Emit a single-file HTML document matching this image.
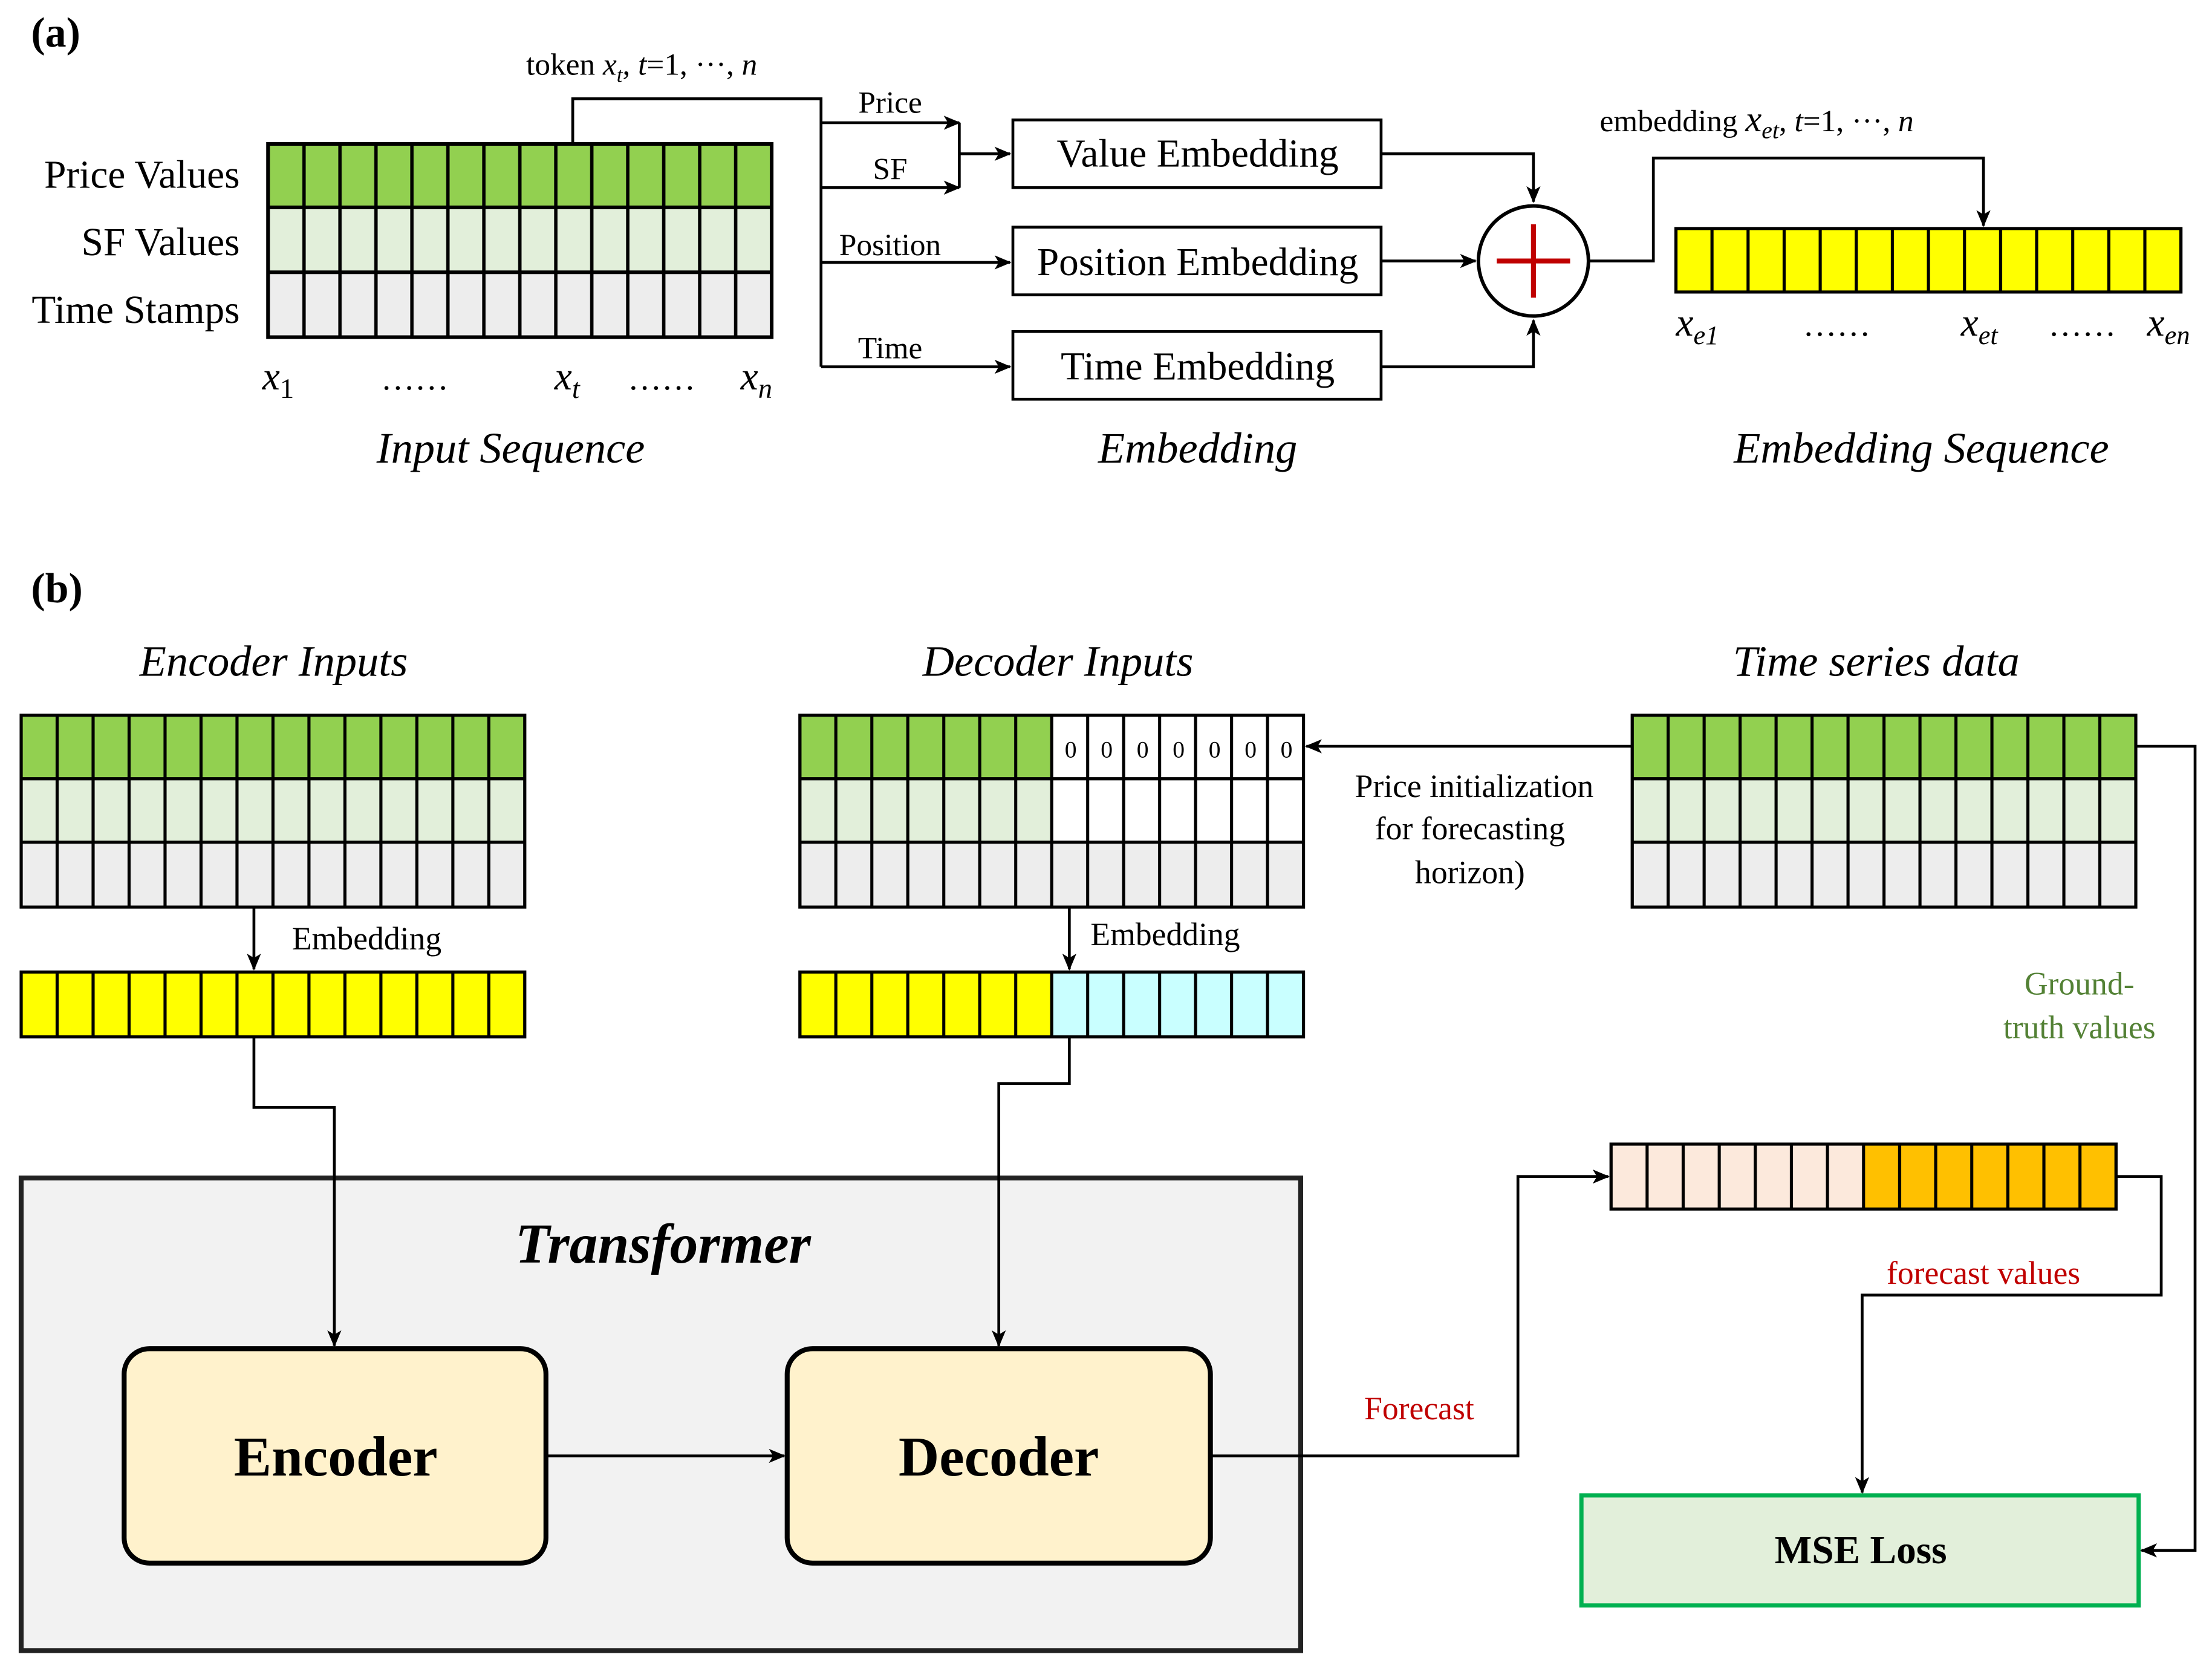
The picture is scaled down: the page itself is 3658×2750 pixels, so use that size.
<!DOCTYPE html>
<html><head><meta charset="utf-8"><style>html,body{margin:0;padding:0;background:#fff}svg{display:block}text{font-family:"Liberation Serif",serif}</style></head>
<body>
<svg width="3658" height="2750" viewBox="0 0 1568 1178.8" xmlns="http://www.w3.org/2000/svg" preserveAspectRatio="none">
<defs>
<marker id="ar" viewBox="0 0 12 10" refX="11" refY="5" markerWidth="12" markerHeight="10" markerUnits="userSpaceOnUse" orient="auto"><path d="M0,0 L12,5 L0,10 L3,5 Z" fill="#000"/></marker>
<pattern id="pa" patternUnits="userSpaceOnUse" x="190" y="0" width="25.5" height="10"><rect x="-1.2" width="2.4" height="10" fill="#000"/><rect x="24.3" width="2.4" height="10" fill="#000"/></pattern>
<pattern id="pe" patternUnits="userSpaceOnUse" x="1188" y="0" width="25.57" height="10"><rect x="-1.1" width="2.2" height="10" fill="#000"/><rect x="24.47" width="2.2" height="10" fill="#000"/></pattern>
<pattern id="pb1" patternUnits="userSpaceOnUse" x="15" y="0" width="25.5" height="10"><rect x="-1.1" width="2.2" height="10" fill="#000"/><rect x="24.4" width="2.2" height="10" fill="#000"/></pattern>
<pattern id="pb2" patternUnits="userSpaceOnUse" x="567" y="0" width="25.5" height="10"><rect x="-1.1" width="2.2" height="10" fill="#000"/><rect x="24.4" width="2.2" height="10" fill="#000"/></pattern>
<pattern id="pb3" patternUnits="userSpaceOnUse" x="1157" y="0" width="25.5" height="10"><rect x="-1.1" width="2.2" height="10" fill="#000"/><rect x="24.4" width="2.2" height="10" fill="#000"/></pattern>
<pattern id="pb4" patternUnits="userSpaceOnUse" x="1142" y="0" width="25.57" height="10"><rect x="-1.1" width="2.2" height="10" fill="#000"/><rect x="24.47" width="2.2" height="10" fill="#000"/></pattern>
</defs>

<!-- (a) -->
<text x="22" y="33" font-size="30" font-weight="bold">(a)</text>
<text x="170" y="133" font-size="28" text-anchor="end">Price Values</text>
<text x="170" y="181" font-size="28" text-anchor="end">SF Values</text>
<text x="170" y="229" font-size="28" text-anchor="end">Time Stamps</text>
<rect x="190" y="102" width="357" height="45" fill="#92d050"/>
<rect x="190" y="147" width="357" height="46" fill="#e2efda"/>
<rect x="190" y="193" width="357" height="46" fill="#ededed"/>
<rect x="190" y="102" width="357" height="137" fill="url(#pa)"/>
<rect x="190" y="102" width="357" height="137" fill="none" stroke="#000" stroke-width="2.6"/>
<line x1="190" y1="147" x2="547" y2="147" stroke="#000" stroke-width="2.6"/>
<line x1="190" y1="193" x2="547" y2="193" stroke="#000" stroke-width="2.6"/>
<text x="186" y="276" font-size="28" font-style="italic">x<tspan font-size="20" font-style="normal" dy="6">1</tspan></text>
<text x="270" y="276" font-size="24">……</text>
<text x="393" y="276" font-size="28" font-style="italic">x<tspan font-size="20" dy="6">t</tspan></text>
<text x="445" y="276" font-size="24">……</text>
<text x="525" y="276" font-size="28" font-style="italic">x<tspan font-size="20" dy="6">n</tspan></text>
<text x="362" y="328" font-size="31" font-style="italic" text-anchor="middle">Input Sequence</text>
<text x="373" y="53" font-size="22">token <tspan font-style="italic">x<tspan font-size="15" dy="5">t</tspan></tspan><tspan dy="-5">,  </tspan><tspan font-style="italic">t</tspan>=1, ···, <tspan font-style="italic">n</tspan></text>

<g stroke="#000" stroke-width="2" fill="none">
<path d="M406,102 V70 H582 V260"/>
<path d="M582,87 H680" marker-end="url(#ar)"/>
<path d="M582,133 H680" marker-end="url(#ar)"/>
<path d="M680,87 V133 M680,109 H716" marker-end="url(#ar)"/>
<path d="M582,186 H716" marker-end="url(#ar)"/>
<path d="M582,260 H716" marker-end="url(#ar)"/>
<path d="M979,109 H1087 V143" marker-end="url(#ar)"/>
<path d="M979,185 H1046" marker-end="url(#ar)"/>
<path d="M979,260 H1087 V227" marker-end="url(#ar)"/>
<path d="M1127,185 H1172 V112 H1406 V160" marker-end="url(#ar)"/>
</g>
<text x="631" y="80" font-size="22" text-anchor="middle">Price</text>
<text x="631" y="127" font-size="22" text-anchor="middle">SF</text>
<text x="631" y="181" font-size="22" text-anchor="middle">Position</text>
<text x="631" y="254" font-size="22" text-anchor="middle">Time</text>
<g fill="#fff" stroke="#000" stroke-width="2">
<rect x="718" y="85" width="261" height="48"/>
<rect x="718" y="161" width="261" height="48"/>
<rect x="718" y="235" width="261" height="48"/>
</g>
<text x="849" y="118" font-size="28" text-anchor="middle">Value Embedding</text>
<text x="849" y="195" font-size="28" text-anchor="middle">Position Embedding</text>
<text x="849" y="269" font-size="28" text-anchor="middle">Time Embedding</text>
<circle cx="1087" cy="185" r="39" fill="#fff" stroke="#000" stroke-width="2.5"/>
<path d="M1061,185 H1113 M1087,159 V211" stroke="#c00000" stroke-width="3.5"/>
<text x="849" y="328" font-size="31" font-style="italic" text-anchor="middle">Embedding</text>

<text x="1134" y="93" font-size="22">embedding <tspan font-style="italic" font-size="26">x<tspan font-size="17" dy="5">et</tspan></tspan><tspan dy="-5">,  </tspan><tspan font-style="italic">t</tspan>=1, ···, <tspan font-style="italic">n</tspan></text>
<rect x="1188" y="162" width="358" height="45" fill="#ffff00"/>
<rect x="1188" y="162" width="358" height="45" fill="url(#pe)"/>
<rect x="1188" y="162" width="358" height="45" fill="none" stroke="#000" stroke-width="2.2"/>
<text x="1188" y="238" font-size="28" font-style="italic">x<tspan font-size="19" dy="6">e1</tspan></text>
<text x="1278" y="238" font-size="24">……</text>
<text x="1390" y="238" font-size="28" font-style="italic">x<tspan font-size="19" dy="6">et</tspan></text>
<text x="1452" y="238" font-size="24">……</text>
<text x="1522" y="238" font-size="28" font-style="italic">x<tspan font-size="19" dy="6">en</tspan></text>
<text x="1362" y="328" font-size="31" font-style="italic" text-anchor="middle">Embedding Sequence</text>

<!-- (b) -->
<text x="22" y="427" font-size="30" font-weight="bold">(b)</text>
<text x="194" y="479" font-size="31" font-style="italic" text-anchor="middle">Encoder Inputs</text>
<text x="750" y="479" font-size="31" font-style="italic" text-anchor="middle">Decoder Inputs</text>
<text x="1330" y="479" font-size="31" font-style="italic" text-anchor="middle">Time series data</text>

<!-- encoder grid -->
<rect x="15" y="507" width="357" height="45" fill="#92d050"/>
<rect x="15" y="552" width="357" height="45" fill="#e2efda"/>
<rect x="15" y="597" width="357" height="46" fill="#ededed"/>
<rect x="15" y="507" width="357" height="136" fill="url(#pb1)"/>
<rect x="15" y="507" width="357" height="136" fill="none" stroke="#000" stroke-width="2.2"/>
<path d="M15,552 H372 M15,597 H372" stroke="#000" stroke-width="2.2"/>
<rect x="15" y="689" width="357" height="46" fill="#ffff00"/>
<rect x="15" y="689" width="357" height="46" fill="url(#pb1)"/>
<rect x="15" y="689" width="357" height="46" fill="none" stroke="#000" stroke-width="2.2"/>

<!-- decoder grid -->
<rect x="567" y="507" width="179" height="45" fill="#92d050"/>
<rect x="567" y="552" width="179" height="45" fill="#e2efda"/>
<rect x="746" y="507" width="178" height="90" fill="#fff"/>
<rect x="567" y="597" width="357" height="46" fill="#ededed"/>
<rect x="567" y="507" width="357" height="136" fill="url(#pb2)"/>
<rect x="567" y="507" width="357" height="136" fill="none" stroke="#000" stroke-width="2.2"/>
<path d="M567,552 H924 M567,597 H924" stroke="#000" stroke-width="2.2"/>
<g font-size="17" text-anchor="middle">
<text x="759" y="537">0</text><text x="784.5" y="537">0</text><text x="810" y="537">0</text><text x="835.5" y="537">0</text><text x="861" y="537">0</text><text x="886.5" y="537">0</text><text x="912" y="537">0</text>
</g>
<rect x="567" y="689" width="179" height="46" fill="#ffff00"/>
<rect x="746" y="689" width="178" height="46" fill="#c9ffff"/>
<rect x="567" y="689" width="357" height="46" fill="url(#pb2)"/>
<rect x="567" y="689" width="357" height="46" fill="none" stroke="#000" stroke-width="2.2"/>

<!-- time series grid -->
<rect x="1157" y="507" width="357" height="45" fill="#92d050"/>
<rect x="1157" y="552" width="357" height="45" fill="#e2efda"/>
<rect x="1157" y="597" width="357" height="46" fill="#ededed"/>
<rect x="1157" y="507" width="357" height="136" fill="url(#pb3)"/>
<rect x="1157" y="507" width="357" height="136" fill="none" stroke="#000" stroke-width="2.2"/>
<path d="M1157,552 H1514 M1157,597 H1514" stroke="#000" stroke-width="2.2"/>

<!-- forecast seq -->
<rect x="1142" y="811" width="179" height="46" fill="#fce9dc"/>
<rect x="1321" y="811" width="179" height="46" fill="#ffc000"/>
<rect x="1142" y="811" width="358" height="46" fill="url(#pb4)"/>
<rect x="1142" y="811" width="358" height="46" fill="none" stroke="#000" stroke-width="2.2"/>

<!-- transformer -->
<rect x="15" y="835" width="907" height="335" fill="#f2f2f2" stroke="#222" stroke-width="3.5"/>
<text x="470" y="895" font-size="40" font-weight="bold" font-style="italic" text-anchor="middle">Transformer</text>
<rect x="88" y="956" width="299" height="152" rx="18" fill="#fff2cc" stroke="#000" stroke-width="3.5"/>
<rect x="558" y="956" width="300" height="152" rx="18" fill="#fff2cc" stroke="#000" stroke-width="3.5"/>
<text x="238" y="1046" font-size="40" font-weight="bold" text-anchor="middle">Encoder</text>
<text x="708" y="1046" font-size="40" font-weight="bold" text-anchor="middle">Decoder</text>

<rect x="1121" y="1060" width="395" height="78" fill="#e2efda" stroke="#00b050" stroke-width="3"/>
<text x="1319" y="1108" font-size="28" font-weight="bold" text-anchor="middle">MSE Loss</text>

<g stroke="#000" stroke-width="2" fill="none">
<path d="M180,643 V687" marker-end="url(#ar)"/>
<path d="M758,643 V687" marker-end="url(#ar)"/>
<path d="M180,735 V785 H237 V954" marker-end="url(#ar)"/>
<path d="M758,735 V768 H708 V954" marker-end="url(#ar)"/>
<path d="M387,1032 H556" marker-end="url(#ar)"/>
<path d="M858,1032 H1076 V834 H1140" marker-end="url(#ar)"/>
<path d="M1500,834 H1532 V918 H1320 V1058" marker-end="url(#ar)"/>
<path d="M1514,529 H1556 V1099 H1518" marker-end="url(#ar)"/>
<path d="M1157,529 H926" marker-end="url(#ar)"/>
</g>
<text x="207" y="673" font-size="23">Embedding</text>
<text x="773" y="670" font-size="23">Embedding</text>
<text x="1045" y="565" font-size="23" text-anchor="middle">Price initialization</text>
<text x="1042" y="595" font-size="23" text-anchor="middle">for forecasting</text>
<text x="1042" y="626" font-size="23" text-anchor="middle">horizon)</text>
<text x="1474" y="705" font-size="23" fill="#538135" text-anchor="middle">Ground-</text>
<text x="1474" y="736" font-size="23" fill="#538135" text-anchor="middle">truth values</text>
<text x="1406" y="910" font-size="23" fill="#c00000" text-anchor="middle">forecast values</text>
<text x="1006" y="1006" font-size="23" fill="#c00000" text-anchor="middle">Forecast</text>
</svg>
</body></html>
